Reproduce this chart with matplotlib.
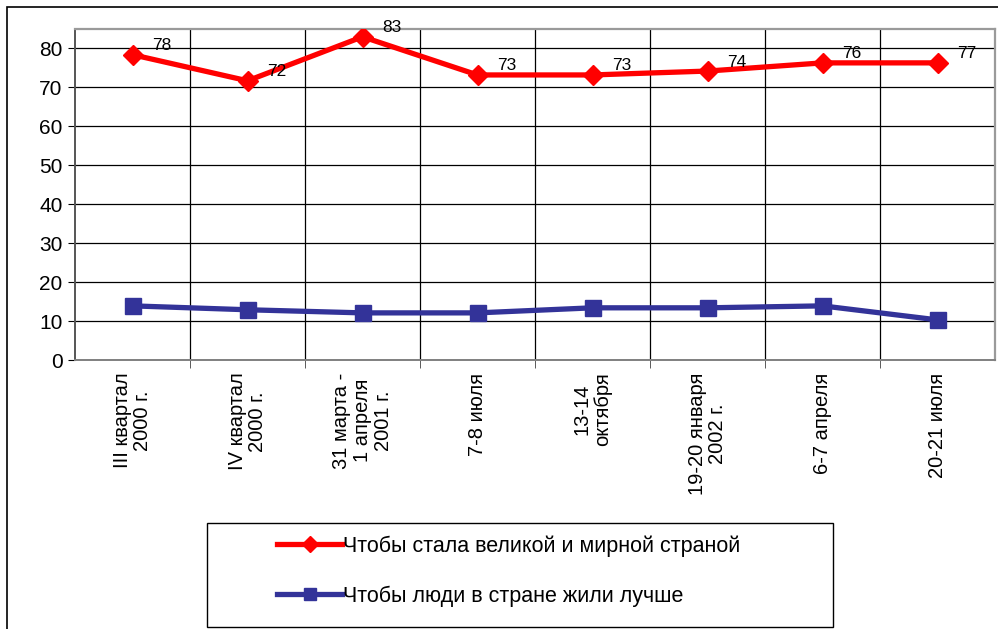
import matplotlib.pyplot as plt
from matplotlib.patches import Rectangle
import numpy as np

plt.rcParams['font.family'] = ['Liberation Sans', 'DejaVu Sans']

# data
categories = ["III квартал\n2000 г.", "IV квартал\n2000 г.", "31 марта -\n1 апреля\n2001 г.",
              "7-8 июля", "13-14\nоктября", "19-20 января\n2002 г.", "6-7 апреля", "20-21 июля"]
great_country = [78.4, 71.7, 83.0, 73.2, 73.2, 74.2, 76.3, 76.3]
great_labels = ["78", "72", "83", "73", "73", "74", "76", "77"]
better_life = [13.9, 12.9, 12.1, 12.1, 13.4, 13.4, 13.9, 10.3]
series_names = ["Чтобы стала великой и мирной страной", "Чтобы люди в стране жили лучше"]

W, H = 998, 629
fig = plt.figure(figsize=(W / 100, H / 100), dpi=100)

# outer frame of the chart
fig.patches.append(Rectangle((7 / W, -0.1), 1.2, (H - 7) / H + 0.1, transform=fig.transFigure,
                             fill=False, ec='black', lw=1.2))

ax = fig.add_axes([75 / W, (H - 360) / H, 920 / W, 331 / H])
x = np.arange(len(categories))

l1, = ax.plot(x, great_country, color='#FF0000', lw=3.8, marker='D', ms=10.5, zorder=3)
l2, = ax.plot(x, better_life, color='#333399', lw=3.8, marker='s', ms=12, zorder=3)

for xi, yi, lab in zip(x, great_country, great_labels):
    ax.annotate(lab, (xi, yi), xytext=(20, 9), textcoords='offset pixels',
                ha='left', va='center', fontsize=12.5)

ax.set_xlim(-0.5, len(categories) - 0.5)
ax.set_ylim(0, 85)
ax.set_yticks(range(0, 90, 10))
ax.set_xticks(x)
ax.set_xticklabels(categories, rotation=90, multialignment='center', fontsize=14.5,
                   linespacing=1.12)
ax.set_xticks(np.arange(0.5, len(categories) - 0.5, 1), minor=True)
ax.tick_params(axis='x', which='major', length=0, pad=9)
ax.tick_params(axis='x', which='minor', length=6, color='#404040')
ax.tick_params(axis='y', length=5, labelsize=15, pad=4)

ax.grid(axis='y', color='black', lw=0.9)
ax.grid(axis='x', which='minor', color='black', lw=0.9)
ax.set_axisbelow(True)
for side in ['top', 'right']:
    ax.spines[side].set_color('#9a9a9a')
    ax.spines[side].set_linewidth(1.6)
ax.spines['left'].set_color('#555555')
ax.spines['bottom'].set_color('#808080')
ax.spines['left'].set_linewidth(1.4)
ax.spines['bottom'].set_linewidth(1.4)

# legend box
fig.patches.append(Rectangle((207 / W, (H - 627) / H), 626 / W, 104 / H, transform=fig.transFigure,
                             fill=False, ec='black', lw=1.0))
fig.legend([l1, l2], series_names, loc='center left', bbox_to_anchor=(258 / W, (H - 571) / H),
           frameon=False, fontsize=15.5, handlelength=3.0, handletextpad=0.05,
           labelspacing=1.35, markerscale=0.75)

fig.savefig('out.png', dpi=100)
